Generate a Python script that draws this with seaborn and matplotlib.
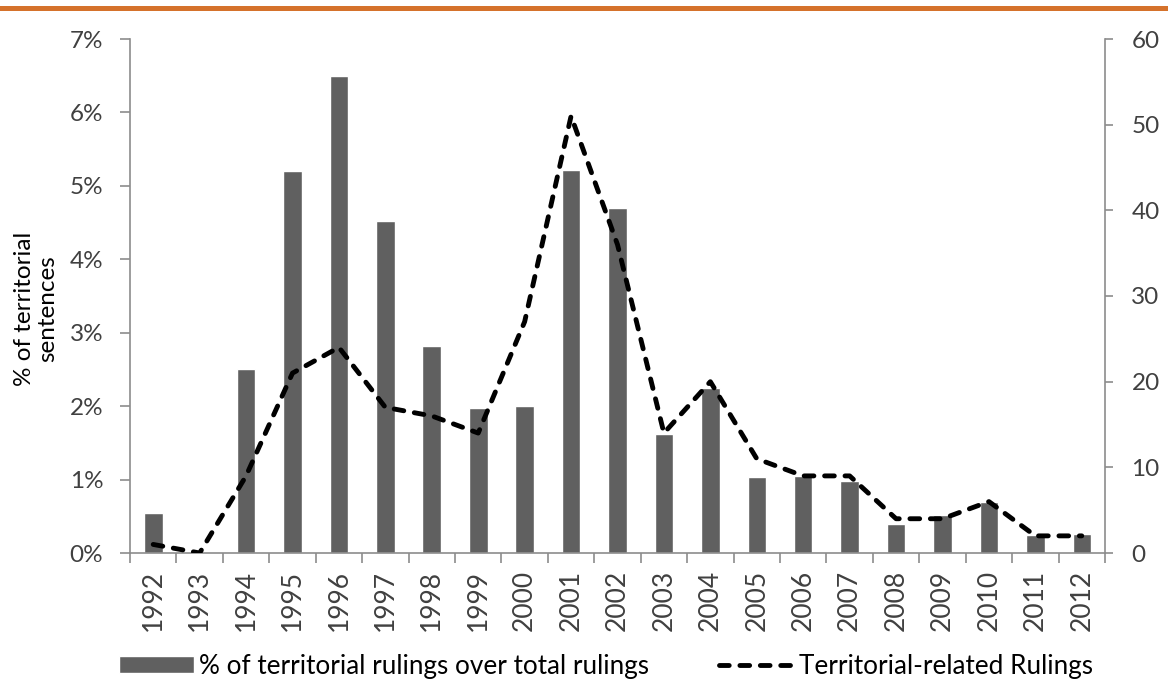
import matplotlib
matplotlib.use("Agg")
import matplotlib.pyplot as plt
from matplotlib.patches import Rectangle
import seaborn as sns
import pandas as pd

years = ["1992", "1993", "1994", "1995", "1996", "1997", "1998", "1999", "2000", "2001",
         "2002", "2003", "2004", "2005", "2006", "2007", "2008", "2009", "2010", "2011", "2012"]
pct_rulings = [0.55, 0.0, 2.5, 5.2, 6.5, 4.52, 2.82, 1.98, 2.0, 5.22,
               4.7, 1.62, 2.25, 1.04, 1.05, 0.98, 0.39, 0.52, 0.69, 0.25, 0.26]
territorial_rulings = [1, 0, 9, 21, 24, 17, 16, 14, 27, 51,
                       36, 14, 20, 11, 9, 9, 4, 4, 6, 2, 2]
left_ticks = [0, 1, 2, 3, 4, 5, 6, 7]
right_ticks = [0, 10, 20, 30, 40, 50, 60]
bar_label = "% of territorial rulings over total rulings"
line_label = "Territorial-related Rulings"
ylabel = "% of territorial\nsentences"

df = pd.DataFrame({"year": years, "pct": pct_rulings, "rulings": territorial_rulings})

sns.set_theme(style="white")
plt.rcParams["font.family"] = ["Lato", "DejaVu Sans"]

W, H = 1168, 684
fig = plt.figure(figsize=(W / 100, H / 100), dpi=100)
ax = fig.add_axes([130 / W, 1 - 553 / H, (1105 - 130) / W, (553 - 39) / H])

grey = "#606060"
axis_col = "#8c8c8c"
text_col = "#404040"

sns.barplot(data=df, x="year", y="pct", color=grey, saturation=1, width=0.4, ax=ax,
            label=bar_label, legend=False)
ax.set_xlim(-0.5, len(years) - 0.5)
ax.set_ylim(0, 7)
ax.set_yticks(left_ticks)
ax.set_yticklabels([f"{t}%" for t in left_ticks])
ax.set_xlabel("")
ax.set_ylabel("")

ax2 = ax.twinx()
sns.lineplot(data=df, x="year", y="rulings", ax=ax2, color="black", lw=3.5,
             linestyle=(0, (2.0, 2.2)), dash_capstyle="round", sort=False,
             label=line_label, legend=False)
ax2.set_ylim(0, 60)
ax2.set_yticks(right_ticks)
ax2.set_yticklabels([str(t) for t in right_ticks])
ax2.set_ylabel("")
ax2.set_xlim(-0.5, len(years) - 0.5)

# spines
for a in (ax, ax2):
    for s in a.spines.values():
        s.set_color(axis_col)
        s.set_linewidth(1.2)
    a.spines["top"].set_visible(False)
ax.spines["right"].set_visible(False)
ax2.spines["left"].set_visible(False)
ax2.spines["bottom"].set_visible(False)

ax.tick_params(axis="y", which="major", direction="out", length=7.2, width=1.2,
               color=axis_col, labelsize=17.5, labelcolor=text_col, pad=12, left=True)
ax2.tick_params(axis="y", which="major", direction="out", length=6, width=1.2,
                color=axis_col, labelsize=17.5, labelcolor=text_col, pad=13, right=True)
# x ticks: category boundaries as minor ticks
ax.set_xticks([i - 0.5 for i in range(len(years) + 1)], minor=True)
ax.tick_params(axis="x", which="minor", direction="out", length=7, width=1.2,
               color=axis_col, bottom=True)
ax.tick_params(axis="x", which="major", length=0, labelsize=19, labelcolor=text_col,
               pad=12, labelrotation=90)

# y label
fig.text(36 / W, 1 - 309 / H, ylabel, rotation=90, ha="center", va="center",
         fontsize=17.5, color="black", linespacing=1.1, multialignment="center")

# legend
handles = [ax.patches[0], ax2.lines[0]]
leg = fig.legend(handles, [bar_label, line_label], loc="center",
                 bbox_to_anchor=(0.519, 0.026), ncol=2, frameon=False,
                 fontsize=18.8, handlelength=2.85, handleheight=0.6, handletextpad=0.2,
                 columnspacing=2.7, labelcolor="black", borderaxespad=0)

# orange rule at top
fig.add_artist(Rectangle((0, 1 - 11 / H), 1, 5 / H, transform=fig.transFigure,
                         color="#D5722B", lw=0))

fig.savefig("out.png", dpi=100)
